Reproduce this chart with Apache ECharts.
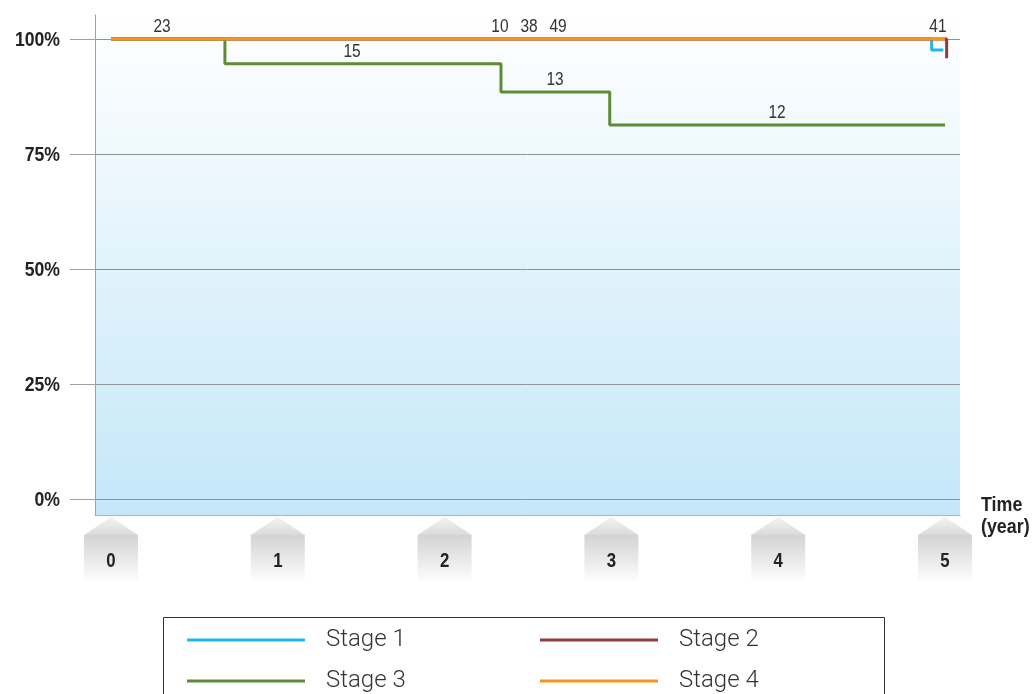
<!DOCTYPE html>
<html>
<head>
<meta charset="utf-8">
<script src="https://cdn.jsdelivr.net/npm/echarts@6/dist/echarts.min.js"></script>
<style>
  html, body { margin: 0; padding: 0; background: #ffffff; }
  #chart { width: 1034px; height: 694px; }
</style>
</head>
<body>
<div id="chart"></div>
<script>
// ---- data ----
const stageNames = ['Stage 1', 'Stage 2', 'Stage 3', 'Stage 4'];
const stageColors = ['#1db7ea', '#933a3a', '#5f8b34', '#f7931e'];

// Survival curves as [year, survival %]; each point is the level reached after a drop
const stage1 = [[0, 100], [4.92, 97.6], [4.99, 97.6]];
const stage2 = [[0, 100], [5.01, 95.8]];
const stage3 = [[0, 100], [0.683, 94.6], [2.338, 88.5], [2.99, 81.3], [5, 81.3]];
const stage4 = [[0, 100], [5, 100]];

const yearTicks = [0, 1, 2, 3, 4, 5];
const percentTicks = [0, 25, 50, 75, 100];

// Counts written above the curves: [year, curve level %, count]
const riskCounts = [
  [0.306, 100, '23'],
  [1.445, 94.6, '15'],
  [2.332, 100, '10'],
  [2.506, 100, '38'],
  [2.68, 100, '49'],
  [2.662, 88.5, '13'],
  [3.993, 81.3, '12'],
  [4.958, 100, '41']
];

// ---- chart ----
const SANS = '"Liberation Sans", Arial, sans-serif';
// axis extents leave a margin around the 0..5 year / 0..100 % frame
const X_MIN = -0.096, X_MAX = 5.09;
const Y_MIN = -3.478, Y_MAX = 105.217;
const chart = echarts.init(document.getElementById('chart'), null, { renderer: 'canvas' });

const curves = [stage1, stage2, stage3, stage4];

// A condensed-looking text element: regular font squeezed horizontally around its anchor
function narrowText(text, x, y, opts) {
  return {
    type: 'text',
    x: x,
    y: y,
    scaleX: opts.scaleX,
    style: {
      text: text,
      x: 0,
      y: 0,
      align: opts.align || 'center',
      verticalAlign: 'middle',
      fontFamily: SANS,
      fontWeight: opts.bold ? 'bold' : 'normal',
      fontSize: opts.size,
      fill: opts.color
    }
  };
}

// Year marker: a grey "house" shaped tab below the axis with the year in it
function renderYearTick(params, api) {
  const t = api.value(0);
  const p = api.coord([t, 0]);
  const x = p[0], y0 = p[1];
  const hw = 27;
  return {
    type: 'group',
    children: [
      {
        type: 'polygon',
        shape: { points: [[x, y0 + 18], [x + hw, y0 + 36], [x - hw, y0 + 36]] },
        style: {
          fill: new echarts.graphic.LinearGradient(0, 0, 0, 1, [
            { offset: 0, color: '#f4f4f4' },
            { offset: 1, color: '#dadada' }
          ])
        }
      },
      {
        type: 'rect',
        shape: { x: x - hw, y: y0 + 36, width: hw * 2, height: 45 },
        style: {
          fill: new echarts.graphic.LinearGradient(0, 0, 0, 1, [
            { offset: 0, color: '#d3d3d3' },
            { offset: 1, color: '#fcfcfc' }
          ])
        }
      },
      narrowText(String(t), x, y0 + 62, { size: 20, bold: true, scaleX: 0.84, color: '#222222' })
    ]
  };
}

function renderPercentLabel(params, api) {
  const p = api.coord([X_MIN, api.value(1)]);
  return narrowText(api.value(1) + '%', p[0] - 35, p[1] + 1,
    { size: 21, bold: true, scaleX: 0.84, align: 'right', color: '#222222' });
}

function renderCount(params, api) {
  const p = api.coord([api.value(0), api.value(1)]);
  return narrowText(riskCounts[params.dataIndex][2], p[0], p[1] - 12,
    { size: 18, scaleX: 0.86, color: '#333333' });
}

const curveSeries = curves.map((data, i) => ({
  name: stageNames[i],
  type: 'line',
  step: 'end',
  data: data,
  symbol: 'none',
  silent: true,
  lineStyle: { color: stageColors[i], width: 3 },
  itemStyle: { color: stageColors[i] },
  z: 3 + i
}));

const legendBase = {
  orient: 'vertical',
  top: 627,
  padding: 0,
  icon: 'rect', itemWidth: 118, itemHeight: 3, itemGap: 15,
  selectedMode: false,
  textStyle: {
    fontFamily: 'Roboto', fontWeight: 300, fontSize: 24, color: '#333333',
    padding: [0, 0, 0, 16], lineHeight: 26
  }
};

const option = {
  animation: false,
  backgroundColor: '#ffffff',
  grid: {
    left: 95, right: 74, top: 15, bottom: 179,
    show: true,
    borderWidth: 0,
    backgroundColor: new echarts.graphic.LinearGradient(0, 0, 0, 1, [
      { offset: 0, color: '#ffffff' },
      { offset: 1, color: '#c4e7f8' }
    ])
  },
  xAxis: {
    type: 'value', min: X_MIN, max: X_MAX,
    axisLine: { show: true, onZero: false, lineStyle: { color: '#a9b6bd', width: 1 } },
    axisTick: { show: false }, axisLabel: { show: false },
    splitLine: { show: false }, splitArea: { show: false }
  },
  yAxis: {
    type: 'value', min: Y_MIN, max: Y_MAX,
    axisLine: { show: true, onZero: false, lineStyle: { color: '#a0a0a0', width: 1 } },
    axisTick: {
      show: true, inside: false, length: 25, customValues: percentTicks,
      lineStyle: { color: '#9aa0a6', width: 1 }
    },
    axisLabel: { show: false },
    splitLine: { show: true, lineStyle: { color: '#8e949a', width: 1 } }
  },
  legend: [
    Object.assign({ data: ['Stage 1', 'Stage 3'], left: 187 }, legendBase),
    Object.assign({ data: ['Stage 2', 'Stage 4'], left: 540 }, legendBase)
  ],
  graphic: [
    {
      type: 'rect',
      shape: { x: 163.5, y: 617.5, width: 721, height: 100 },
      style: { fill: 'none', stroke: '#333333', lineWidth: 1 },
      silent: true
    },
    {
      type: 'group',
      children: [
        narrowText('Time', 981, 505, { size: 21, bold: true, scaleX: 0.85, align: 'left', color: '#222222' }),
        narrowText('(year)', 981, 527, { size: 21, bold: true, scaleX: 0.85, align: 'left', color: '#222222' })
      ]
    }
  ],
  series: curveSeries.concat([
    {
      type: 'custom',
      name: 'years',
      data: yearTicks.map(t => [t, 0]),
      renderItem: renderYearTick,
      clip: false,
      silent: true,
      z: 1
    },
    {
      type: 'custom',
      name: 'percents',
      data: percentTicks.map(v => [X_MIN, v]),
      renderItem: renderPercentLabel,
      clip: false,
      silent: true,
      z: 1
    },
    {
      type: 'custom',
      name: 'counts',
      data: riskCounts.map(r => [r[0], r[1]]),
      renderItem: renderCount,
      clip: false,
      silent: true,
      z: 10
    }
  ])
};

chart.setOption(option);
</script>
</body>
</html>
